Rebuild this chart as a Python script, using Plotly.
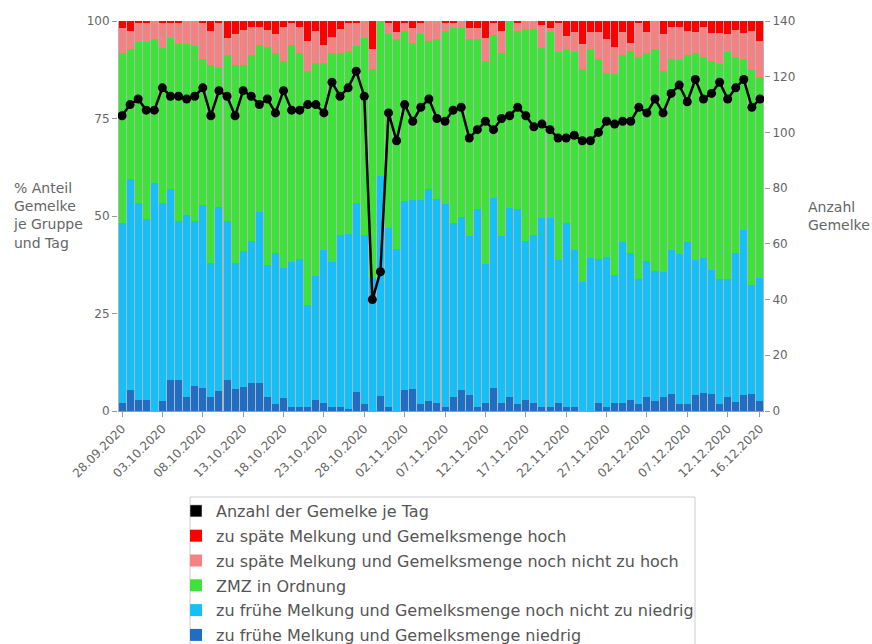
import datetime as dt
import plotly.graph_objects as go

start = dt.date(2020, 9, 28)
dates = [(start + dt.timedelta(days=i)).strftime("%d.%m.%Y") for i in range(80)]

# Anzahl der Gemelke je Tag (right axis)
anzahl = [106, 110, 112, 108, 108, 116, 113, 113, 112, 113,
          116, 106, 115, 113, 106, 115, 113, 110, 112, 107,
          115, 108, 108, 110, 110, 107, 118, 113, 116, 122,
          113, 40, 50, 107, 97, 110, 104, 109, 112, 105,
          104, 108, 109, 98, 101, 104, 101, 105, 106, 109,
          106, 102, 103, 101, 98, 98, 99, 97, 97, 100,
          104, 103, 104, 104, 109, 107, 112, 107, 114, 117,
          111, 119, 112, 114, 118, 112, 116, 119, 109, 112]

# percentage shares per day
dunkelblau = [2.0, 5.4, 2.7, 2.7, 0.0, 2.5, 7.9, 7.9, 3.5, 6.3,
              6.0, 3.7, 5.2, 8.0, 5.7, 6.1, 7.1, 7.3, 3.5, 1.8,
              3.3, 0.9, 0.9, 0.9, 2.8, 2.0, 0.9, 0.9, 0.5, 4.8,
              1.7, 0.0, 3.9, 0.9, 0.0, 5.4, 5.7, 1.7, 2.6, 2.0,
              0.9, 3.7, 5.4, 4.0, 0.9, 2.0, 6.0, 2.0, 3.7, 1.7,
              2.8, 2.0, 0.9, 0.9, 2.0, 0.9, 0.9, 0.0, 0.0, 2.0,
              0.9, 2.0, 2.0, 2.8, 1.7, 3.7, 2.6, 3.7, 4.3, 1.7,
              1.7, 4.1, 4.5, 4.3, 1.7, 3.5, 2.4, 4.1, 4.4, 2.5]

hellblau = [46.1, 54.0, 50.6, 46.6, 58.5, 50.9, 48.9, 40.8, 46.7, 42.4,
            46.7, 34.3, 47.2, 40.7, 32.3, 34.9, 36.4, 43.7, 34.0, 38.6,
            33.4, 37.2, 38.1, 26.3, 31.9, 39.2, 37.3, 44.3, 45.0, 48.6,
            43.5, 34.0, 56.3, 46.1, 41.6, 48.4, 48.3, 52.5, 54.4, 52.4,
            52.2, 44.5, 44.3, 41.0, 50.8, 35.7, 48.7, 43.0, 48.4, 50.0,
            40.7, 43.2, 48.6, 48.6, 36.8, 47.2, 40.5, 33.1, 39.2, 37.0,
            38.6, 33.0, 41.4, 37.7, 32.2, 34.7, 33.2, 31.9, 36.9, 38.6,
            41.6, 34.7, 34.7, 31.8, 32.2, 30.4, 38.1, 42.2, 27.8, 31.6]

gruen = [43.8, 33.5, 41.3, 45.3, 37.0, 39.8, 38.9, 45.3, 43.8, 44.8,
         37.6, 50.7, 35.6, 42.5, 50.7, 47.7, 47.7, 42.8, 55.9, 51.5,
         53.0, 55.7, 52.9, 60.1, 54.6, 48.1, 53.5, 46.7, 46.8, 40.2,
         50.5, 53.8, 39.8, 49.6, 53.7, 43.6, 40.4, 42.4, 37.9, 41.1,
         44.3, 50.1, 48.6, 50.4, 43.7, 52.0, 41.6, 46.7, 47.9, 45.7,
         54.5, 52.8, 43.5, 47.6, 53.3, 44.8, 50.7, 54.7, 53.7, 51.2,
         47.2, 51.5, 48.0, 51.8, 56.9, 53.5, 57.1, 51.6, 49.1, 49.7,
         47.9, 53.1, 51.6, 53.6, 55.2, 58.2, 50.3, 43.9, 55.2, 51.6]

rosa = [6.4, 4.5, 4.8, 4.8, 4.5, 6.2, 3.7, 5.4, 6.0, 6.5,
        9.1, 8.7, 11.4, 4.5, 7.9, 9.1, 7.3, 4.7, 4.3, 4.7,
        8.8, 5.6, 6.6, 7.6, 8.1, 4.5, 4.3, 6.1, 7.1, 5.8,
        4.3, 4.9, 0.0, 2.8, 1.9, 2.0, 3.9, 2.8, 5.1, 4.5,
        2.0, 1.1, 1.7, 2.9, 2.9, 6.0, 3.1, 5.7, 0.0, 2.0,
        2.0, 2.0, 6.0, 1.2, 7.3, 3.3, 5.1, 6.2, 4.3, 7.0,
        8.8, 6.9, 5.8, 2.0, 8.6, 5.3, 7.1, 9.4, 8.2, 8.5,
        6.2, 5.3, 7.7, 7.1, 7.7, 4.5, 6.9, 6.6, 10.0, 9.2]

rot = [1.7, 2.6, 0.6, 0.6, 0.0, 0.6, 0.6, 0.6, 0.0, 0.0,
       0.6, 2.6, 0.6, 4.3, 3.4, 2.2, 1.5, 1.5, 2.3, 3.4,
       1.5, 0.6, 1.5, 5.1, 2.6, 6.2, 4.0, 2.0, 0.6, 0.6,
       0.0, 7.3, 0.0, 0.6, 2.8, 0.6, 1.7, 0.6, 0.0, 0.0,
       0.6, 0.6, 0.0, 1.7, 1.7, 4.3, 0.6, 2.6, 0.0, 0.6,
       0.0, 0.0, 1.0, 1.7, 0.6, 3.8, 2.8, 6.0, 2.8, 2.8,
       4.5, 6.6, 2.8, 5.7, 0.6, 2.8, 0.0, 3.4, 1.5, 1.5,
       2.6, 2.8, 1.5, 3.2, 3.2, 3.4, 2.3, 3.2, 2.6, 5.1]

tick_dates = dates[::5] + [dates[-1]]

names = {
    "anzahl": "Anzahl der Gemelke je Tag",
    "rot": "zu späte Melkung und Gemelksmenge hoch",
    "rosa": "zu späte Melkung und Gemelksmenge noch nicht zu hoch",
    "gruen": "ZMZ in Ordnung",
    "hellblau": "zu frühe Melkung und Gemelksmenge noch nicht zu niedrig",
    "dunkelblau": "zu frühe Melkung und Gemelksmenge niedrig",
}
colors = {
    "anzahl": "#000000",
    "rot": "#ff0000",
    "rosa": "#f58282",
    "gruen": "#3ee23a",
    "hellblau": "#15c0f8",
    "dunkelblau": "#1f6ec4",
}

fig = go.Figure()
stack = [("dunkelblau", dunkelblau, 6), ("hellblau", hellblau, 5),
         ("gruen", gruen, 4), ("rosa", rosa, 3), ("rot", rot, 2)]
for key, vals, rank in stack:
    fig.add_trace(go.Bar(x=dates, y=vals, name=names[key],
                         marker=dict(color=colors[key], line=dict(width=0)),
                         legendrank=rank, legendgroup=key, hoverinfo="skip"))

# legend entry (square) for the line series
fig.add_trace(go.Bar(x=[dates[0]], y=[None], name=names["anzahl"],
                     marker=dict(color="#000000"), legendrank=1,
                     legendgroup="anzahl", showlegend=True, hoverinfo="skip"))

fig.add_trace(go.Scatter(x=dates, y=anzahl, yaxis="y2", mode="lines+markers",
                         line=dict(color="#000000", width=2.5),
                         marker=dict(color="#000000", size=9),
                         legendgroup="anzahl",
                         showlegend=False, name=names["anzahl"]))

tickfont = dict(family="DejaVu Sans", size=12, color="#666666")

# plot area target: x 118..764, y 21..411 (window px)
W, H = 872, 644
PL, PR, PT, PB = 118, 764, 21, 411
PW, PH = PR - PL, PB - PT


def px(xw):
    return (xw - PL) / PW


def py(yw):
    return (PB - yw) / PH


fig.update_layout(
    width=W, height=H,
    margin=dict(l=PL, r=W - PR, t=PT, b=H - PB, autoexpand=False),
    barmode="stack", bargap=0.13,
    paper_bgcolor="white", plot_bgcolor="#b4b4b4",
    font=dict(family="DejaVu Sans", color="#555555"),
    xaxis=dict(type="category", tickmode="array", tickvals=tick_dates,
               ticktext=tick_dates, tickangle=-45, tickfont=tickfont,
               range=[-0.5, len(dates) - 0.5],
               ticks="outside", ticklen=5, tickcolor="#999999",
               showline=True, linecolor="#999999", linewidth=1,
               showgrid=False, zeroline=False, fixedrange=True),
    yaxis=dict(range=[0, 100], tickvals=[0, 25, 50, 75, 100], tickfont=tickfont,
               ticks="outside", ticklen=5, tickcolor="#999999",
               showgrid=False, zeroline=False, showline=False),
    yaxis2=dict(range=[0, 140], dtick=20, overlaying="y", side="right",
                tickfont=tickfont, ticks="outside", ticklen=5, tickcolor="#999999",
                showgrid=False, zeroline=False, showline=False),
    legend=dict(x=px(176), y=py(494), xanchor="left", yanchor="top",
                traceorder="grouped", tracegroupgap=1, borderwidth=0,
                bgcolor="rgba(0,0,0,0)",
                font=dict(family="DejaVu Sans", size=16, color="#555555"),
                itemwidth=30),
    shapes=[dict(type="rect", xref="paper", yref="paper",
                 x0=px(190), x1=px(695), y0=py(660), y1=py(497),
                 line=dict(color="#cccccc", width=1), fillcolor="rgba(0,0,0,0)",
                 layer="below")],
    annotations=[
        dict(text="% Anteil<br>Gemelke<br>je Gruppe<br>und Tag", xref="paper", yref="paper",
             x=px(11), y=py(215), xanchor="left", yanchor="middle", align="left",
             showarrow=False, font=dict(family="DejaVu Sans", size=14, color="#666666")),
        dict(text="Anzahl<br>Gemelke", xref="paper", yref="paper",
             x=px(806), y=py(216), xanchor="left", yanchor="middle", align="left",
             showarrow=False, font=dict(family="DejaVu Sans", size=14, color="#666666")),
    ],
)

fig.write_html("out.html",
               config={"displayModeBar": False},
               post_script="document.body.style.margin='0';"
                           "document.body.style.overflow='hidden';")
